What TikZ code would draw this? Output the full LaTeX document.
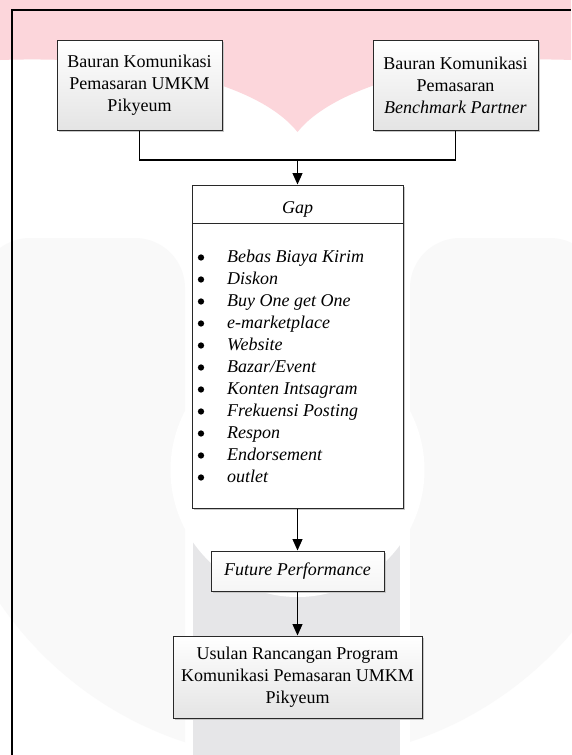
\documentclass[tikz,border=0pt]{standalone}
\usepackage{fontspec}
\setmainfont{Liberation Serif}
\usetikzlibrary{arrows.meta,shadows}
\definecolor{wmpink}{RGB}{252,214,219}
\definecolor{wmband}{RGB}{230,230,232}
\definecolor{wmfaint}{RGB}{249,249,249}
\definecolor{boxline}{RGB}{40,40,40}
\definecolor{boxbot}{RGB}{228,228,228}
\tikzset{
  txt/.style={font=\fontsize{18}{22}\selectfont},
  shad/.style={drop shadow={shadow xshift=2pt,shadow yshift=-2pt,fill=black!22,opacity=1}},
  gradbox/.style={draw=boxline,line width=1pt,top color=white,bottom color=boxbot,
    align=center,inner sep=0pt,txt,shad},
  plainbox/.style={draw=boxline,line width=1pt,fill=white,align=center,inner sep=0pt,txt,shad},
  bulletdot/.style={circle,fill=black,inner sep=0pt,minimum size=6.3pt},
  link/.style={draw=black,line width=1.2pt},
  arrowlink/.style={link,-{Triangle[length=11.5pt,width=10pt]}},
}
\begin{document}
\begin{tikzpicture}[x=1pt,y=1pt]
\useasboundingbox (0,0) rectangle (571,-755);
\fill[white] (0,0) rectangle (571,-755);
% watermark
\begin{scope}
  \clip (297,-400) circle (360);
  \fill[wmfaint,rounded corners=50pt] (-20,-238) rectangle (185,-800);
  \fill[wmfaint,rounded corners=50pt] (410,-238) rectangle (600,-800);
\end{scope}
\fill[wmband] (193,-480) rectangle (400,-755);
\fill[white] (297.5,-470) circle (127);
\fill[wmpink] (0,0) -- (571,0) -- (571,-60)
  .. controls (450,-55) and (335,-85) .. (297.5,-132)
  .. controls (260,-85) and (150,-55) .. (0,-60) -- cycle;
% frame
\draw[line width=1.3pt] (12,-755) -- (12,-10) -- (571,-10);
% boxes
\node[gradbox,minimum width=165pt,minimum height=90pt] (lb) at (139.5,-85)
  {Bauran Komunikasi\\Pemasaran UMKM\\Pikyeum};
\node[gradbox,minimum width=165pt,minimum height=90pt] (rb) at (455.5,-85)
  {Bauran Komunikasi\\Pemasaran\\\textit{Benchmark Partner}};
\node[plainbox,minimum width=211pt,minimum height=38pt,text height=18pt,text depth=0pt] (gh) at (297.5,-204)
  {\textit{Gap}};
\node[plainbox,minimum width=211pt,minimum height=285pt] (gb) at (297.5,-365.5) {};
\foreach \t [count=\i] in {Bebas Biaya Kirim,Diskon,Buy One get One,e-marketplace,Website,Bazar/Event,Konten Intsagram,Frekuensi Posting,Respon,Endorsement,outlet}{
  \node[bulletdot] (bu\i) at (201,{-257.5-22*(\i-1)}) {};
  \node[txt,anchor=base west,inner sep=0pt] (it\i) at (227,{-262-22*(\i-1)}) {\textit{\t}};
}
\node[gradbox,bottom color=gray!8,minimum width=173pt,minimum height=40pt] (fp) at (297.5,-571)
  {\textit{Future Performance}};
\node[gradbox,minimum width=249pt,minimum height=82pt] (fin) at (297.5,-677)
  {Usulan Rancangan Program\\Komunikasi Pemasaran UMKM\\Pikyeum};
% connectors
\coordinate (j) at (297.5,-160);
\draw[link] (lb.south) |- (j);
\draw[link] (rb.south) |- (j);
\draw[arrowlink] (j) -- (gh.north);
\draw[arrowlink] (gb.south) -- (fp.north);
\draw[arrowlink] (fp.south) -- (fin.north);
\end{tikzpicture}
\end{document}
